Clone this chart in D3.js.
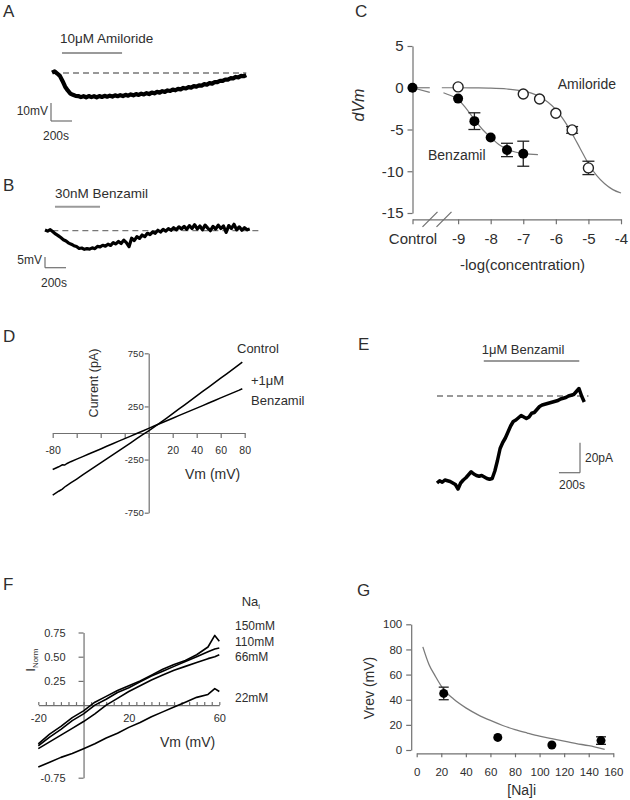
<!DOCTYPE html>
<html><head><meta charset="utf-8">
<script src="https://cdn.jsdelivr.net/npm/d3@7/dist/d3.min.js"></script>
<style>html,body{margin:0;padding:0;background:#fff}</style>
</head><body>
<svg id="fig" width="630" height="800" xmlns="http://www.w3.org/2000/svg"></svg>
<script>
// ================= DATA =================
// Panel A: membrane potential (mV) during 10 µM amiloride, one value every 25 s
const traceAStep = 25;
const traceA = [0.2,0.9,-0.3,-1.6,-4.4,-7.6,-9.7,-11.4,-12.1,-12.7,
 -12.8,-13.4,-12.9,-13.5,-12.8,-13.4,-12.9,-13.5,-12.8,-13.3,
 -12.7,-13.2,-12.6,-13.1,-12.4,-12.9,-12.3,-12.8,-12.1,-12.6,
 -11.9,-12.4,-11.7,-12.2,-11.5,-11.9,-11.2,-11.7,-10.9,-11.3,
 -10.5,-10.9,-10.1,-10.5,-9.7,-10.0,-9.2,-9.6,-8.8,-9.1,
 -8.3,-8.6,-7.8,-8.1,-7.3,-7.6,-6.9,-7.0,-6.2,-6.5,
 -5.6,-5.9,-5.0,-5.1,-4.3,-4.4,-3.6,-3.7,-2.9,-3.0,
 -2.2,-2.4,-1.6,-1.8,-1.2];
const drugA = [95, 667];               // application window (s)
const drugALabel = "10μM Amiloride";

// Panel B: membrane potential (mV) during 30 nM benzamil, every 25 s
const traceBStep = 25;
const traceB = [0.3,-0.2,0.5,-0.5,-1.5,-2.3,-3.2,-4.2,-4.8,-5.8,
 -6.3,-7.0,-7.4,-8.3,-8.1,-8.7,-8.4,-8.6,-8.0,-8.4,
 -7.3,-7.6,-6.8,-7.2,-6.3,-6.9,-5.6,-6.2,-5.0,-6.0,
 -4.4,-5.6,-7.5,-3.5,-4.6,-2.8,-3.6,-2.0,-2.8,-1.2,
 -1.8,-0.6,-1.2,0.2,-0.6,0.6,-0.2,1.0,0.2,1.4,
 0.4,1.8,0.8,2.0,0.6,2.4,1.0,2.8,0.8,2.2,
 0.4,2.6,1.2,0.0,2.0,0.8,2.6,1.0,2.2,-0.8,
 2.4,1.0,3.0,0.4,1.8,0.2,1.4,0.4,0.8];
const drugB = [95, 524];
const drugBLabel = "30nM Benzamil";

// Panel C: dose response (dVm, mV) vs log concentration
const concTicks = [-9,-8,-7,-6,-5,-4];
const controlAt = -10.4;
const controlValue = 0;
const benzConc = [-9,-8.5,-8,-7.5,-7];
const benzDVm  = [-1.3,-4.0,-5.95,-7.45,-7.9];
const benzErr  = [0.3,1.0,0.3,0.8,1.5];
const amilConc = [-9,-7,-6.5,-6,-5.5,-5];
const amilDVm  = [0.1,-0.75,-1.35,-3.05,-5.05,-9.6];
const amilErr  = [0,0.2,0.3,0.3,0.4,0.8];
const fitAmilX = [-9.5,-9,-8.5,-8,-7.5,-7,-6.75,-6.5,-6.25,-6,-5.75,-5.5,-5.25,-5,-4.75,-4.5,-4.25,-4];
const fitAmilY = [0,0,-0.02,-0.05,-0.15,-0.4,-0.65,-1.05,-1.7,-2.6,-3.9,-5.5,-7.3,-9.1,-10.5,-11.5,-12.2,-12.6];
const fitBenzX = [-9.45,-9.25,-9,-8.75,-8.5,-8.25,-8,-7.75,-7.5,-7.25,-7,-6.55];
const fitBenzY = [-0.6,-0.9,-1.4,-2.5,-3.8,-5.0,-5.95,-6.8,-7.35,-7.7,-7.9,-8.0];
const stubX = -9.87;                     // end of fit stubs next to Control
const stubAmilY = 0, stubBenzY = -0.55;

// Panel D: I-V relations (pA vs mV)
const ivV = [-80,-75,-72,-70,-68,-65,-60,-55,-50,-45,-40,-35,-30,-25,-20,-15,-10,-5,0,5,10,15,20,25,30,35,40,45,50,55,60,65,70,75,78];
const ivControl = [-584,-548,-528,-508,-492,-470,-433,-395,-357,-319,-281,-244,-206,-168,-130,-92,-54,-16,21,59,99,140,182,224,265,307,349,391,432,474,516,557,599,641,666];
const ivBenz    = [-343,-318,-300,-302,-287,-270,-246,-222,-198,-174,-150,-125,-101,-77,-53,-29,-5,19,43,68,92,115,139,163,187,211,234,258,282,306,330,354,378,401,416];

// Panel E: whole-cell current (pA, relative to final level) every 25 s
const traceEStep = 25;
const traceE = [-58,-56.5,-57.5,-56,-56.5,-57,-58,-59,-62,-58,
 -56,-54.5,-52.5,-50.5,-52,-53,-53.5,-53,-54,-55,
 -55.5,-55,-50,-43,-35,-31,-28,-24,-20,-17,
 -16,-14.5,-13,-14,-15,-14,-11.5,-11,-9,-7,
 -6,-5.5,-5,-4.5,-4,-3.5,-3,-2,-1.5,-1,
 0,0.5,1,3,5,0,-4];
const drugE = [440, 1350];
const drugELabel = "1μM Benzamil";

// Panel F: normalised I-V at different [Na]i
const fV = [-20,-15,-10,-5,0,5,10,15,20,25,30,35,40,45,50,55,58,60];
const fLabels = ["150mM","110mM","66mM","22mM"];
const f150 = [-0.40,-0.30,-0.22,-0.13,-0.06,0.03,0.09,0.15,0.20,0.25,0.31,0.37,0.42,0.46,0.52,0.60,0.72,0.66];
const f110 = [-0.42,-0.33,-0.25,-0.16,-0.09,0.00,0.06,0.13,0.18,0.24,0.30,0.35,0.40,0.45,0.50,0.55,0.58,0.59];
const f66  = [-0.45,-0.38,-0.31,-0.24,-0.17,-0.09,0.00,0.07,0.14,0.20,0.26,0.31,0.36,0.40,0.44,0.48,0.50,0.52];
const f22  = [-0.64,-0.59,-0.54,-0.50,-0.45,-0.40,-0.34,-0.29,-0.23,-0.18,-0.12,-0.07,-0.02,0.03,0.08,0.11,0.17,0.14];

// Panel G: reversal potential vs [Na]i
const gNa   = [22,66,110,150];
const gVrev = [45,10,4,7.5];
const gErr  = [5,1,1,3];
const gFitX = [5,10,15,22,30,40,50,60,70,80,90,100,110,120,130,140,153];
const gFitY = [82,68,59,48,40.5,33.5,28,23.5,19.5,16.2,13.5,11,9,7,5.1,3.4,0.5];

// ================= DRAWING =================
const svg = d3.select("#fig");
const FONT = "Arial, 'Liberation Sans', Helvetica, sans-serif";
const INK = "#2e2e2e", AXC = "#707070", CURVE = "#7a7a7a", BAR = "#9a9a9a";

function label(x, y, s, size, o = {}) {
  const t = svg.append("text").attr("x", x).attr("y", y)
    .attr("font-family", FONT).attr("font-size", size)
    .attr("fill", o.fill || INK).attr("text-anchor", o.anchor || "start").text(s);
  if (o.rotate) t.attr("transform", `rotate(-90,${x},${y})`);
  if (o.italic) t.attr("font-style", "italic");
  return t;
}
function styleAxis(g, size) {
  g.attr("font-family", FONT).attr("font-size", size);
  g.select(".domain").attr("stroke", AXC).attr("stroke-width", 1.2);
  g.selectAll(".tick line").attr("stroke", AXC).attr("stroke-width", 1.2);
  g.selectAll(".tick text").attr("fill", INK);
}
function seg(x1, y1, x2, y2, stroke, w, dash) {
  const l = svg.append("line").attr("x1", x1).attr("y1", y1).attr("x2", x2).attr("y2", y2)
    .attr("stroke", stroke).attr("stroke-width", w);
  if (dash) l.attr("stroke-dasharray", dash);
  return l;
}
function tracePath(values, step, xs, ys, w) {
  svg.append("path").datum(values)
    .attr("d", d3.line().x((d, i) => xs(i * step)).y(d => ys(d)))
    .attr("fill", "none").attr("stroke", "#000").attr("stroke-width", w)
    .attr("stroke-linejoin", "round");
}
function scaleBar(x0, y0, xs, ys, tUnit, yUnit) {
  const h = Math.abs(ys(yUnit) - ys(0)), w = xs(tUnit) - xs(0);
  seg(x0, y0 - h, x0, y0, AXC, 1.2);
  seg(x0, y0, x0 + w, y0, AXC, 1.2);
}

// Panel letters
label(3, 17, "A", 17);
label(3, 191, "B", 17);
label(355, 17, "C", 17);
label(3, 342, "D", 17);
label(358, 350, "E", 17);
label(3, 590, "F", 17);
label(357, 596, "G", 17);

// ---------- Panel A ----------
{
  const xA = d3.scaleLinear().domain([0, 1850]).range([52, 246.3]);
  const yA = d3.scaleLinear().domain([0, -10]).range([73, 91]);
  label(xA(drugA[0]) - 2, 43, drugALabel, 13.5);
  seg(xA(drugA[0]), 53, xA(drugA[1]), 53, BAR, 2);
  seg(xA(105), yA(0), xA(1850), yA(0), "#777", 1.3, "6,4");
  tracePath(traceA, traceAStep, xA, yA, 4.2);
  scaleBar(51, 121, xA, yA, 200, -10);
  label(48, 115, "10mV", 12, { anchor: "end" });
  label(43, 140, "200s", 12);
}

// ---------- Panel B ----------
{
  const xB = d3.scaleLinear().domain([0, 1950]).range([45, 249.75]);
  const yB = d3.scaleLinear().domain([0, -5]).range([230.7, 241.4]);
  label(xB(drugB[0]), 198, drugBLabel, 13.5);
  seg(xB(drugB[0]), 206.7, xB(drugB[1]), 206.7, BAR, 2);
  seg(xB(70), yB(0), xB(2050), yB(0), "#777", 1.3, "6,4");
  tracePath(traceB, traceBStep, xB, yB, 3.2);
  scaleBar(45, 267.7, xB, yB, 200, -5);
  label(42, 264, "5mV", 12, { anchor: "end" });
  label(41, 287, "200s", 12);
}

// ---------- Panel C ----------
{
  const xC = d3.scaleLinear().domain([controlAt, -4]).range([412.5, 621]);
  const yC = d3.scaleLinear().domain([-15, 5]).range([213, 46]);
  const yAxisG = svg.append("g").attr("transform", `translate(${xC(controlAt)},0)`)
    .call(d3.axisLeft(yC).tickValues([5, 0, -5, -10, -15]).tickFormat(String)
      .tickSize(5).tickPadding(4).tickSizeOuter(0));
  styleAxis(yAxisG, 15);
  const xAxisY = yC(-15) + 6.3;
  const xAxisG = svg.append("g").attr("transform", `translate(0,${xAxisY})`)
    .call(d3.axisBottom(xC).tickValues([controlAt, ...concTicks])
      .tickFormat(d => d === controlAt ? "Control" : String(d))
      .tickSize(5).tickPadding(9.5).tickSizeOuter(0));
  styleAxis(xAxisG, 15);
  // axis break marks
  const bx = xC(controlAt);
  seg(bx + 10, xAxisY + 7.5, bx + 25, xAxisY - 7.5, AXC, 1.2);
  seg(bx + 24, xAxisY + 7.5, bx + 39, xAxisY - 7.5, AXC, 1.2);

  const line = d3.line().x(d => xC(d[0])).y(d => yC(d[1])).curve(d3.curveMonotoneX);
  // stubs next to control
  seg(xC(controlAt), yC(controlValue), xC(stubX), yC(stubAmilY), CURVE, 1.2);
  seg(xC(controlAt), yC(controlValue), xC(stubX), yC(stubBenzY), CURVE, 1.2);
  svg.append("path").datum(fitAmilX.map((x, i) => [x, fitAmilY[i]]))
    .attr("d", line).attr("fill", "none").attr("stroke", CURVE).attr("stroke-width", 1.2);
  svg.append("path").datum(fitBenzX.map((x, i) => [x, fitBenzY[i]]))
    .attr("d", line).attr("fill", "none").attr("stroke", CURVE).attr("stroke-width", 1.2);

  function errBars(xs, ys, es) {
    xs.forEach((x, i) => {
      if (es[i] < 0.35) return;
      const cx = xC(x), y1 = yC(ys[i] + es[i]), y2 = yC(ys[i] - es[i]);
      seg(cx, y1, cx, y2, "#222", 1.3);
      seg(cx - 6, y1, cx + 6, y1, "#222", 1.3);
      seg(cx - 6, y2, cx + 6, y2, "#222", 1.3);
    });
  }
  errBars(benzConc, benzDVm, benzErr);
  errBars(amilConc, amilDVm, amilErr);
  svg.append("g").selectAll("circle").data(amilConc).join("circle")
    .attr("cx", d => xC(d)).attr("cy", (d, i) => yC(amilDVm[i])).attr("r", 5)
    .attr("fill", "#fff").attr("stroke", "#222").attr("stroke-width", 1.4);
  svg.append("g").selectAll("circle").data(benzConc).join("circle")
    .attr("cx", d => xC(d)).attr("cy", (d, i) => yC(benzDVm[i])).attr("r", 5)
    .attr("fill", "#000");
  svg.append("circle").attr("cx", xC(controlAt)).attr("cy", yC(controlValue)).attr("r", 5).attr("fill", "#000");

  label(557.7, 88.5, "Amiloride", 14);
  label(428, 160, "Benzamil", 14);
  label(364, 105, "dVm", 16, { rotate: true, anchor: "middle", italic: true });
  label(522.5, 270, "-log(concentration)", 15, { anchor: "middle" });
}

// ---------- Panel D ----------
{
  const xD = d3.scaleLinear().domain([-80, 80]).range([52.7, 244.7]);
  const yD = d3.scaleLinear().domain([-750, 750]).range([512.7, 353.3]);
  const ya = svg.append("g").attr("transform", `translate(${xD(0)},0)`)
    .call(d3.axisLeft(yD).tickValues([750, 250, -250, -750]).tickFormat(String)
      .tickSize(4).tickPadding(1).tickSizeOuter(0));
  styleAxis(ya, 9.5);
  const xa = svg.append("g").attr("transform", `translate(0,${yD(0)})`)
    .call(d3.axisBottom(xD).tickValues(d3.range(-80, 81, 20))
      .tickFormat(d => [-80, 20, 40, 60, 80].includes(d) ? String(d) : "")
      .tickSize(5).tickPadding(9).tickSizeOuter(0));
  styleAxis(xa, 10.5);
  const line = d3.line().x((d, i) => xD(ivV[i])).y(d => yD(d));
  svg.append("path").datum(ivControl).attr("d", line).attr("fill", "none").attr("stroke", "#000").attr("stroke-width", 1.5);
  svg.append("path").datum(ivBenz).attr("d", line).attr("fill", "none").attr("stroke", "#000").attr("stroke-width", 1.5);
  label(237, 353, "Control", 13);
  label(251, 385, "+1μM", 13);
  label(251, 405, "Benzamil", 13);
  label(98, 383, "Current (pA)", 12.5, { rotate: true, anchor: "middle" });
  label(185, 479, "Vm (mV)", 14);
}

// ---------- Panel E ----------
{
  const xE = d3.scaleLinear().domain([0, 1410]).range([437, 585.3]);
  const yE = d3.scaleLinear().domain([-20, 0]).range([426, 396]);
  label(481.7, 354, drugELabel, 13);
  seg(xE(drugE[0]) + 0.5, 361, xE(drugE[0]) + 96, 361, BAR, 2);
  seg(xE(0), yE(0), xE(1440), yE(0), "#777", 1.3, "6,4");
  tracePath(traceE, traceEStep, xE, yE, 3.5);
  // scale bar: 20 pA / 200 s
  const h = yE(-20) - yE(0), w = xE(200) - xE(0);
  seg(580, 472.7 - h, 580, 472.7, AXC, 1.2);
  seg(580 - w, 472.7, 580, 472.7, AXC, 1.2);
  label(585, 462, "20pA", 12);
  label(559, 489, "200s", 12);
}

// ---------- Panel F ----------
{
  const xF = d3.scaleLinear().domain([-20, 60]).range([38.3, 219.3]);
  const yF = d3.scaleLinear().domain([-0.75, 0.75]).range([777.7, 632.5]);
  const ya = svg.append("g").attr("transform", `translate(${xF(0)},0)`)
    .call(d3.axisLeft(yF).tickValues([0.75, 0.5, 0.25, -0.75]).tickFormat(d => d.toFixed(2))
      .tickSize(5).tickPadding(13).tickSizeOuter(0));
  styleAxis(ya, 11);
  const fTicks = d3.range(0, 25).map(i => -20 + i * 80 / 24);
  const xa = svg.append("g").attr("transform", `translate(0,${yF(0)})`)
    .call(d3.axisBottom(xF).tickValues(fTicks)
      .tickFormat(d => [-20, 20, 60].some(v => Math.abs(v - d) < 1e-6) ? String(Math.round(d)) : "")
      .tickSize(-3).tickPadding(9.5).tickSizeOuter(0));
  styleAxis(xa, 11);
  const line = d3.line().x((d, i) => xF(fV[i])).y(d => yF(d));
  [f150, f110, f66, f22].forEach(s => {
    svg.append("path").datum(s).attr("d", line).attr("fill", "none")
      .attr("stroke", "#000").attr("stroke-width", 1.6).attr("stroke-linejoin", "round");
  });
  const ys = [630, 646, 661, 702];
  fLabels.forEach((t, i) => label(235, ys[i], t, 12));
  const na = label(241.7, 606, "Na", 13);
  na.append("tspan").attr("font-size", 8).attr("dy", 3).text("i");
  const iN = label(35, 660, "I", 12, { rotate: true, anchor: "middle" });
  iN.append("tspan").attr("font-size", 8).attr("dy", 3).text("Norm");
  label(160, 747, "Vm (mV)", 14);
}

// ---------- Panel G ----------
{
  const xG = d3.scaleLinear().domain([0, 160]).range([416.7, 613.3]);
  const yG = d3.scaleLinear().domain([0, 100]).range([750, 624.3]);
  const ya = svg.append("g").attr("transform", `translate(${xG(0) - 5.5},0)`)
    .call(d3.axisLeft(yG).tickValues(d3.range(0, 101, 20)).tickFormat(String)
      .tickSize(5).tickPadding(4).tickSizeOuter(0));
  styleAxis(ya, 11.5);
  const xa = svg.append("g").attr("transform", `translate(0,${yG(0) + 3.3})`)
    .call(d3.axisBottom(xG).tickValues(d3.range(0, 161, 20)).tickFormat(String)
      .tickSize(4).tickPadding(10.5).tickSizeOuter(0));
  styleAxis(xa, 11.5);
  svg.append("path").datum(gFitX.map((x, i) => [x, gFitY[i]]))
    .attr("d", d3.line().x(d => xG(d[0])).y(d => yG(d[1])).curve(d3.curveMonotoneX))
    .attr("fill", "none").attr("stroke", CURVE).attr("stroke-width", 1.3);
  gNa.forEach((x, i) => {
    if (gErr[i] < 2) return;
    const cx = xG(x), y1 = yG(gVrev[i] + gErr[i]), y2 = yG(gVrev[i] - gErr[i]);
    seg(cx, y1, cx, y2, "#222", 1.3);
    seg(cx - 5, y1, cx + 5, y1, "#222", 1.3);
    seg(cx - 5, y2, cx + 5, y2, "#222", 1.3);
  });
  svg.append("g").selectAll("circle").data(gNa).join("circle")
    .attr("cx", d => xG(d)).attr("cy", (d, i) => yG(gVrev[i])).attr("r", 4.5).attr("fill", "#000");
  label(374, 688, "Vrev (mV)", 14, { rotate: true, anchor: "middle" });
  label(521.7, 795, "[Na]i", 14, { anchor: "middle" });
}
</script>
</body></html>
